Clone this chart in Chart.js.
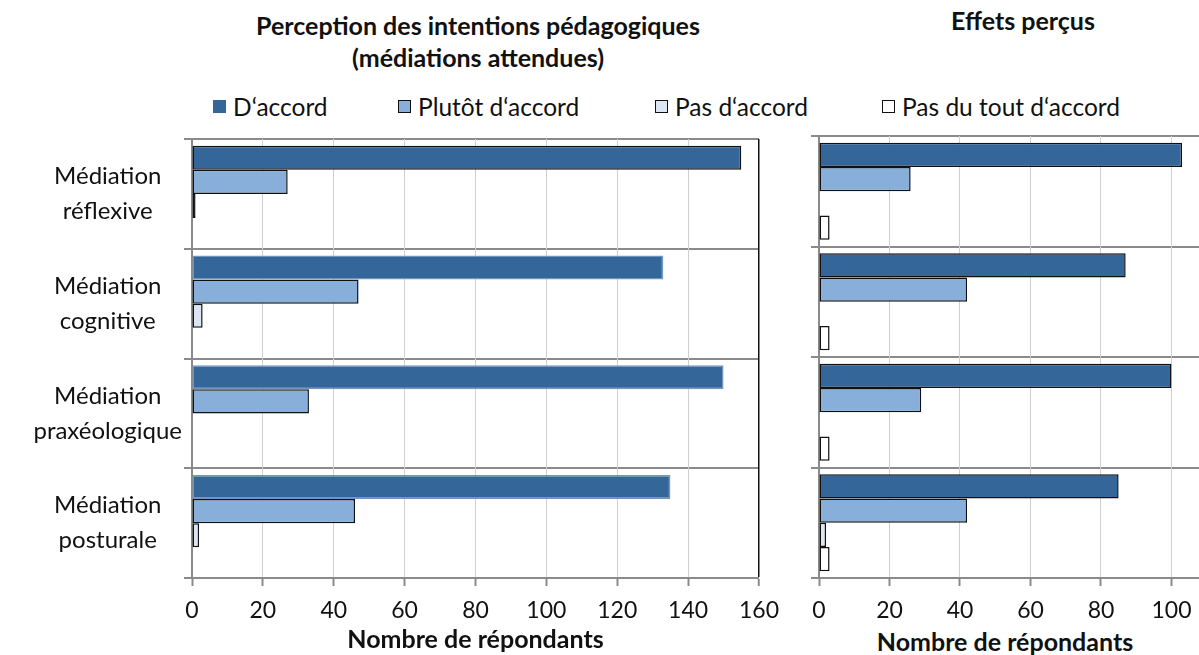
<!DOCTYPE html>
<html><head><meta charset="utf-8">
<script src="https://cdn.jsdelivr.net/npm/chart.js@4"></script>
<style>
html,body{margin:0;padding:0;background:#fff;overflow:hidden;width:1199px;height:655px;}
body{position:relative;font-family:Lato, sans-serif;color:#111;}
.t{position:absolute;font-weight:bold;white-space:nowrap;transform:translate(-50%,-50%);font-size:25px;line-height:1;}
.lg{position:absolute;top:107px;transform:translateY(-50%);font-size:24.5px;white-space:nowrap;line-height:1;}
.sq{position:absolute;top:100px;width:13px;height:13px;box-sizing:border-box;}
canvas{position:absolute;}
</style></head><body>
<div class="t" style="left:478px;top:25px">Perception des intentions pédagogiques</div>
<div class="t" style="left:478px;top:57px">(médiations attendues)</div>
<div class="t" style="left:1023px;top:20px">Effets perçus</div>
<div id="legend"></div>
<div class="t" id="rtitle" style="left:1005px;top:641px">Nombre de répondants</div>
<canvas id="left" width="790" height="555" style="left:0;top:100px;width:790px;height:555px"></canvas>
<canvas id="right" width="483" height="555" style="left:790px;top:100px;width:483px;height:555px"></canvas>
<script>
// ---- data ----
const categories = [["Médiation","réflexive"],["Médiation","cognitive"],["Médiation","praxéologique"],["Médiation","posturale"]];
const seriesNames = ["D‘accord","Plutôt d‘accord","Pas d‘accord","Pas du tout d‘accord"];
const attenduesDaccord   = [155,133,150,135];
const attenduesPlutot    = [27,47,33,46];
const attenduesPas       = [1,3,0,2];
const attenduesPasDuTout = [0,0,0,0];
const effetsDaccord      = [103,87,100,85];
const effetsPlutot       = [26,42,29,42];
const effetsPas          = [0,0,0,2];
const effetsPasDuTout    = [3,3,3,3];
const leftMax = 160, rightMax = 120, tickStep = 20;
const axisTitle = "Nombre de répondants";

// ---- styles ----
const fills = ['#34669a','#87afd9','#dce6f2','#ffffff'];
const borders = ['#111','#111','#111','#111'];
const legendX = [213,398,655,882];

const lg = document.getElementById('legend');
seriesNames.forEach((n,i)=>{
  const s = document.createElement('div');
  s.className='sq'; s.style.left=legendX[i]+'px'; s.style.background=fills[i];
  if(i>0) s.style.border='1.5px solid #111';
  lg.appendChild(s);
  const t = document.createElement('div');
  t.className='lg'; t.style.left=(legendX[i]+20)+'px'; t.textContent=n;
  lg.appendChild(t);
});

Chart.defaults.font.family = 'Lato';
Chart.defaults.color = '#111';

function makeDatasets(arrs, leftPanel){
  return arrs.map((d,i)=>({
    label: seriesNames[i],
    data: d,
    backgroundColor: fills[i],
    borderColor: (leftPanel && i===0) ? ['#111','#6f95c0','#6f95c0','#6f95c0'] : borders[i],
    borderWidth: 1.5,
    borderSkipped: false,
    categoryPercentage: 0.876,
    barPercentage: 1.0
  }));
}

function makeOptions(max, showY, yWidth, top, showTitle){
  return {
    indexAxis:'y', responsive:false, animation:false,
    layout:{padding:{top:top,right:30,left:0,bottom:0}},
    plugins:{legend:{display:false},tooltip:{enabled:false}},
    scales:{
      y:{
        grid:{color:'#8a8a8a',lineWidth:2,tickLength:8,tickColor:'#8a8a8a',tickWidth:2,offset:true},
        border:{color:'#8a8a8a',width:2},
        ticks:{display:showY,crossAlign:'center',padding:2,font:{size:24,lineHeight:1.46},color:'#111'},
        afterFit:(s)=>{s.width=yWidth; s.paddingTop=0; s.paddingBottom=0;}
      },
      x:{
        min:0,max:max,
        grid:{color:(c)=> (c.tick && c.tick.value===max && max===leftMax) ? '#111' : '#d0d0d0',lineWidth:(c)=>(c.tick && c.tick.value===max && max===leftMax)?1.5:1,
              tickLength:8,tickColor:'#8a8a8a',tickWidth:2},
        border:{color:'#8a8a8a',width:2},
        ticks:{stepSize:tickStep,padding:11,font:{size:23},color:'#111',maxRotation:0,autoSkip:false},
        title:{display:showTitle,text:axisTitle,font:{size:25,weight:'bold'},color:'#111',padding:{top:0,bottom:0}},
        afterFit:(s)=>{s.height=77;}
      }
    }
  };
}

new Chart(document.getElementById('left'),{
  type:'bar',
  data:{labels:categories,datasets:makeDatasets([attenduesDaccord,attenduesPlutot,attenduesPas,attenduesPasDuTout],true)},
  options:makeOptions(leftMax,true,192,39,true)
});
new Chart(document.getElementById('right'),{
  type:'bar',
  data:{labels:categories,datasets:makeDatasets([effetsDaccord,effetsPlutot,effetsPas,effetsPasDuTout],false)},
  options:makeOptions(rightMax,false,29,36,false)
});
</script>
</body></html>
